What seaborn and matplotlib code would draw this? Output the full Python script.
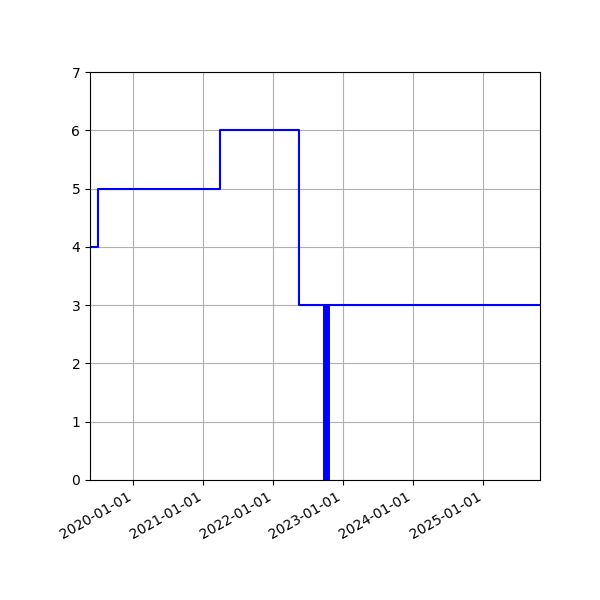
import pandas as pd
import matplotlib
matplotlib.use("Agg")
import matplotlib.pyplot as plt
import matplotlib.dates as mdates
import seaborn as sns

# step series (value holds until the next date)
dates = ["2019-05-20", "2019-07-03", "2021-03-26", "2022-05-14", "2025-10-24"]
values = [4, 5, 6, 3, 3]

# single marker bar
bar_date = "2022-10-02"
bar_height = 3

df = pd.DataFrame({"date": pd.to_datetime(dates), "value": values})

fig, ax = plt.subplots(figsize=(6, 6), dpi=100)
sns.lineplot(data=df, x="date", y="value", ax=ax, color="blue",
             drawstyle="steps-post", linewidth=1.5)
ax.vlines(pd.to_datetime(bar_date), 0, bar_height, color="blue", linewidth=5)

ax.set_xlim(df["date"].min(), df["date"].max())
ax.set_ylim(0, 7)
ax.xaxis.set_major_locator(mdates.YearLocator())
ax.xaxis.set_major_formatter(mdates.DateFormatter("%Y-%m-%d"))
ax.grid(True, color="#b0b0b0")
ax.set_xlabel("")
ax.set_ylabel("")
fig.autofmt_xdate()
fig.subplots_adjust(left=0.15, right=0.9, top=0.88, bottom=0.2)

fig.savefig("out.png")
